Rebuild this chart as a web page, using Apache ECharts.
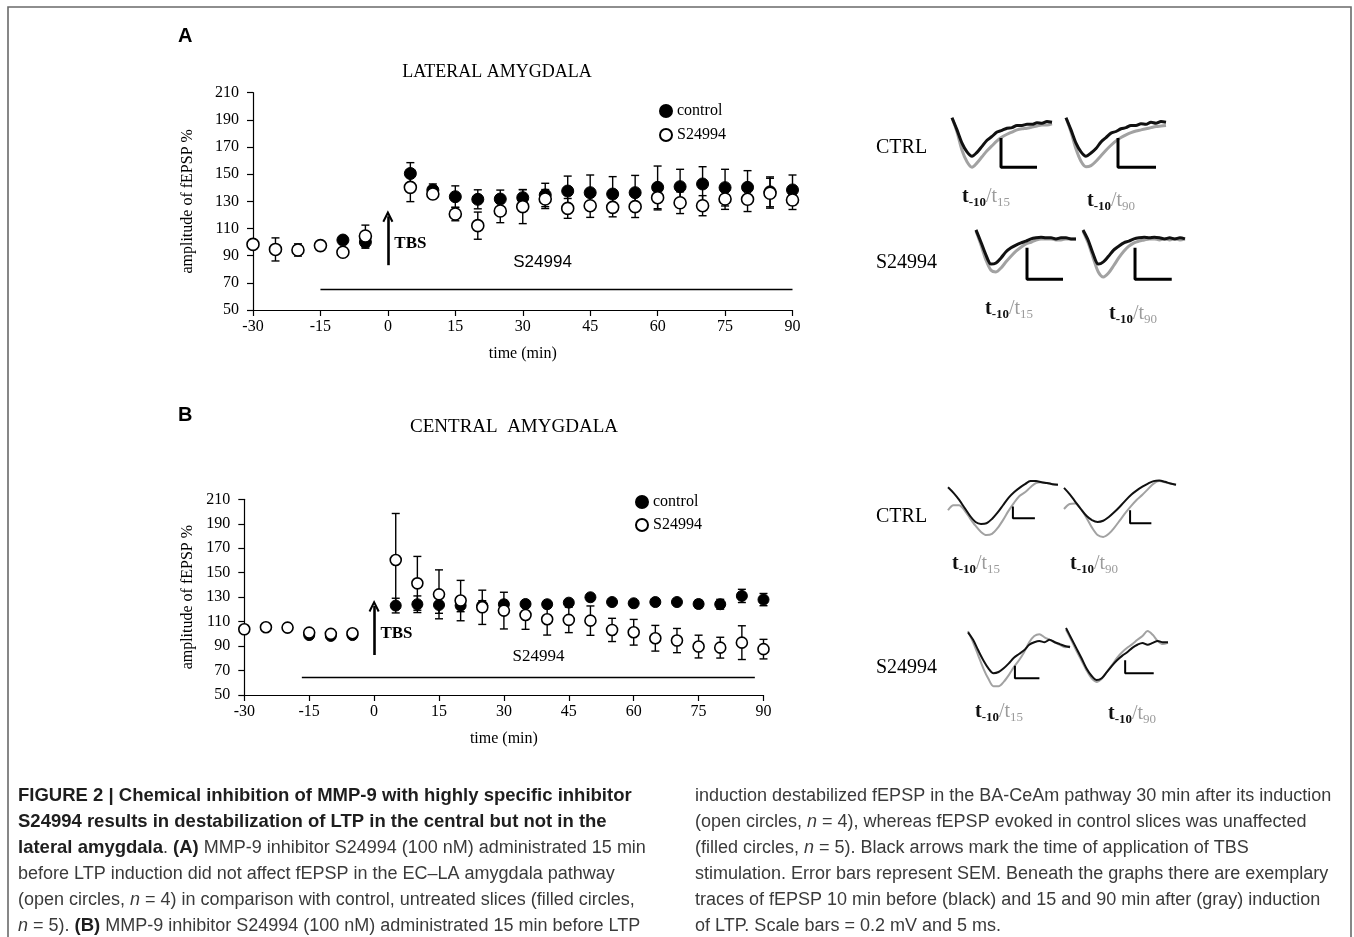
<!DOCTYPE html>
<html>
<head>
<meta charset="utf-8">
<title>Figure 2 - MMP-9 inhibition</title>
<script src="https://cdn.jsdelivr.net/npm/echarts/dist/echarts.min.js"></script>
<style>
  html, body { margin: 0; padding: 0; background: #fff; }
  #main { width: 1354px; height: 937px; }
</style>
</head>
<body>
<div id="main"></div>
<script>
var SERIF = '"Liberation Serif", "Times New Roman", serif';
var SANS = '"Liberation Sans", Arial, sans-serif';

// time points (min) - no point at 0 (TBS)
var times = [-30, -25, -20, -15, -10, -5, 5, 10, 15, 20, 25, 30, 35, 40, 45, 50, 55, 60, 65, 70, 75, 80, 85, 90];
var ampTicks = [50, 70, 90, 110, 130, 150, 170, 190, 210];

// A - lateral amygdala (% of baseline fEPSP, mean and SEM)
var laControl = [null, null, null, null, 101.5, 100, 150.5, 138.3, 133.4, 131.5, 131.7, 132.7, 134.7, 137.6, 136.4, 135.4, 136.4, 140.3, 140.8, 142.8, 140.1, 140.3, 137, 138.4];
var laControlSem = [null, null, null, null, 1.5, 4.5, 8, 4.5, 8, 7, 6.6, 6, 8.6, 11, 13, 12.8, 12.7, 15.7, 12.8, 12.7, 13.5, 12.3, 11, 11];
var laDrug = [98.3, 94.6, 94.2, 97.4, 92.5, 104.5, 140.3, 135.4, 120.7, 112.1, 122.9, 126.1, 131.7, 124.8, 126.8, 125.6, 126.1, 132.7, 129, 126.8, 131.7, 131.5, 136, 131];
var laDrugSem = [2, 8.5, 4.5, 1.5, 1.5, 8, 10.5, 3.4, 5, 10, 8.6, 12.5, 7, 7.3, 8.6, 7, 8, 9, 8, 7.4, 7.6, 9, 11, 7];

// B - central amygdala
var ceControl = [null, null, null, 99, 98.3, 99, 123.1, 124.2, 123.6, 123.1, 123.1, 124.2, 124.4, 124.2, 125.5, 129.9, 126, 125, 126, 126, 124.4, 124.2, 131, 128];
var ceControlSem = [null, null, null, 1, 1, 1, 6, 6.8, 6.8, 5, 4, 3, 2, 2, 2.5, 2.5, 2, 2, 2, 2.5, 3, 4, 5.4, 5];
var ceDrug = [103.7, 105.4, 105.1, 101, 100, 100.5, 160.4, 141.3, 132.3, 127.2, 121.7, 119, 115.4, 111.9, 111.4, 110.8, 103.2, 101.3, 96.4, 94.5, 89.6, 88.7, 92.8, 87.5];
var ceDrugSem = [1, 1, 1, 1, 1, 1, 38, 22, 20, 16.5, 14, 15, 11.7, 12.9, 10.4, 12, 9.5, 10.5, 10.5, 9.9, 9.3, 8.5, 13.8, 8];

// example traces: x in % of panel width, y = depth from panel top (% of panel height)
var traceX = [0, 5, 10, 15, 20, 25, 30, 35, 40, 45, 50, 55, 60, 65, 70, 75, 80, 85, 90, 95, 100];
var laCtrl15Black = [5, 27, 51, 67, 75, 68, 57, 46, 39, 31, 28, 24, 23, 19, 19, 17, 17, 14, 15, 12, 13];
var laCtrl15Gray = [5, 31, 64, 85, 95, 87, 76, 65, 56, 47, 40, 35, 31, 27, 25, 24, 22, 20, 18, 18, 16];
var laCtrl15Bar = [[49, 42], [49, 95], [85, 95]];
var laCtrl90Black = [5, 27, 51, 67, 75, 69, 61, 49, 41, 33, 30, 25, 23, 19, 19, 16, 17, 13, 15, 12, 13];
var laCtrl90Gray = [5, 31, 62, 84, 94, 92, 84, 74, 64, 55, 47, 41, 36, 32, 29, 27, 25, 23, 21, 20, 19];
var laCtrl90Bar = [[52, 42], [52, 95], [90, 95]];
var laDrug15Black = [7, 29, 52, 68, 66, 57, 46, 39, 34, 30, 27, 23, 21, 20, 21, 21, 23, 21, 21, 23, 23];
var laDrug15Gray = [9, 34, 61, 79, 82, 75, 64, 54, 45, 38, 32, 29, 25, 23, 23, 23, 25, 25, 23, 23, 23];
var laDrug15Bar = [[51, 39], [51, 95], [87, 95]];
var laDrug90Black = [7, 25, 50, 68, 64, 54, 43, 36, 30, 27, 23, 21, 20, 21, 20, 21, 23, 21, 23, 21, 23];
var laDrug90Gray = [9, 30, 57, 82, 91, 84, 71, 57, 45, 36, 30, 27, 25, 23, 23, 25, 23, 25, 23, 25, 23];
var laDrug90Bar = [[51, 39], [51, 95], [87, 95]];
var ceCtrl15Black = [15, 24, 35, 48, 61, 71, 74, 73, 66, 56, 44, 32, 23, 16, 10, 5, 5, 7, 8, 10, 11];
var ceCtrl15Gray = [52, 44, 44, 52, 65, 77, 87, 92, 90, 81, 68, 53, 40, 29, 23, 15, 8, 7, 8, 10, 11];
var ceCtrl15Bar = [[59, 46], [59, 65], [79, 65]];
var ceCtrl90Black = [16, 26, 38, 50, 61, 68, 71, 69, 63, 55, 46, 36, 27, 20, 14, 9, 5, 4, 6, 9, 11];
var ceCtrl90Gray = [50, 42, 41, 50, 64, 80, 92, 95, 90, 80, 68, 56, 45, 35, 27, 18, 9, 5, 7, 9, 11];
var ceCtrl90Bar = [[59, 52], [59, 73], [78, 73]];
var ceDrug15Black = [7, 19, 36, 52, 65, 73, 71, 65, 57, 48, 42, 36, 27, 23, 21, 23, 19, 23, 26, 29, 31];
var ceDrug15Gray = [5, 23, 44, 65, 82, 94, 94, 87, 76, 63, 52, 39, 23, 13, 10, 15, 19, 23, 27, 31, 29];
var ceDrug15Bar = [[46, 61], [46, 81], [70, 81]];
var ceDrug90Black = [0, 16, 32, 48, 65, 77, 84, 81, 71, 61, 52, 45, 39, 32, 27, 24, 27, 24, 21, 23, 23];
var ceDrug90Gray = [3, 19, 36, 52, 68, 81, 87, 82, 71, 60, 48, 39, 32, 26, 19, 13, 5, 11, 21, 26, 24];
var ceDrug90Bar = [[58, 52], [58, 73], [86, 73]];

// caption
var captionLeft = [
  '{b|FIGURE 2 | Chemical inhibition of MMP-9 with highly specific inhibitor}',
  '{b|S24994 results in destabilization of LTP in the central but not in the}',
  '{b|lateral amygdala}. {b|(A)} MMP-9 inhibitor S24994 (100 nM) administrated 15 min',
  'before LTP induction did not affect fEPSP in the EC\u2013LA amygdala pathway',
  '(open circles, {i|n} = 4) in comparison with control, untreated slices (filled circles,',
  '{i|n} = 5). {b|(B)} MMP-9 inhibitor S24994 (100 nM) administrated 15 min before LTP'
];
var captionRight = [
  'induction destabilized fEPSP in the BA-CeAm pathway 30 min after its induction',
  '(open circles, {i|n} = 4), whereas fEPSP evoked in control slices was unaffected',
  '(filled circles, {i|n} = 5). Black arrows mark the time of application of TBS',
  'stimulation. Error bars represent SEM. Beneath the graphs there are exemplary',
  'traces of fEPSP 10 min before (black) and 15 and 90 min after (gray) induction',
  'of LTP. Scale bars = 0.2 mV and 5 ms.'
];

function toPoints(xs, ys) {
  var out = [];
  for (var i = 0; i < xs.length; i++) {
    if (ys[i] != null) out.push([xs[i], ys[i]]);
  }
  return out;
}
function toBars(xs, m, s) {
  var out = [];
  for (var i = 0; i < xs.length; i++) {
    if (m[i] != null) out.push([xs[i], m[i] - s[i], m[i] + s[i]]);
  }
  return out;
}

function errorBar(params, api) {
  var x = api.value(0);
  var lo = api.coord([x, api.value(1)]);
  var hi = api.coord([x, api.value(2)]);
  var cap = 4;
  var st = { stroke: '#000', lineWidth: 1.4 };
  return {
    type: 'group',
    children: [
      { type: 'line', shape: { x1: lo[0], y1: lo[1], x2: hi[0], y2: hi[1] }, style: st },
      { type: 'line', shape: { x1: hi[0] - cap, y1: hi[1], x2: hi[0] + cap, y2: hi[1] }, style: st },
      { type: 'line', shape: { x1: lo[0] - cap, y1: lo[1], x2: lo[0] + cap, y2: lo[1] }, style: st }
    ]
  };
}

var arrowHead = 'path://M0,12 L6,0 L12,12 L10,13 L6,5 L2,13 Z';

var grids = [];
var xAxes = [];
var yAxes = [];
var series = [];
var graphics = [];

// one time-course panel
function addPanel(p) {
  var g = grids.length;
  grids.push({ left: p.left, top: p.top, width: p.width, height: p.height });
  xAxes.push({
    gridIndex: g, type: 'value', min: -30, max: 90, interval: 15,
    axisLine: { show: true, onZero: false, lineStyle: { color: '#000', width: 1.2 } },
    axisTick: { show: true, length: 6, lineStyle: { color: '#000', width: 1.2 } },
    axisLabel: { color: '#000', fontFamily: SERIF, fontSize: 16, margin: 9 },
    splitLine: { show: false },
    name: 'time (min)', nameLocation: 'middle', nameGap: p.xNameGap,
    nameTextStyle: { color: '#000', fontFamily: SERIF, fontSize: 16 }
  });
  yAxes.push({
    gridIndex: g, type: 'value', min: 50, max: 210,
    axisLine: { show: true, onZero: false, lineStyle: { color: '#000', width: 1.2 } },
    axisTick: { show: true, length: 6, customValues: ampTicks, lineStyle: { color: '#000', width: 1.2 } },
    axisLabel: { color: '#000', fontFamily: SERIF, fontSize: 16, margin: 14, customValues: ampTicks },
    splitLine: { show: false },
    name: 'amplitude of fEPSP %', nameLocation: 'middle', nameGap: p.yNameGap,
    nameTextStyle: { color: '#000', fontFamily: SERIF, fontSize: 16 }
  });
  series.push({
    type: 'custom', xAxisIndex: g, yAxisIndex: g, z: 2, silent: true,
    renderItem: errorBar, encode: { x: 0, y: [1, 2] },
    data: toBars(times, p.control, p.controlSem)
  });
  series.push({
    type: 'scatter', name: 'control', xAxisIndex: g, yAxisIndex: g, z: 3,
    symbol: 'circle', symbolSize: p.symbolSize,
    itemStyle: { color: '#000', borderColor: '#000', borderWidth: 1, opacity: 1 },
    data: toPoints(times, p.control)
  });
  series.push({
    type: 'custom', xAxisIndex: g, yAxisIndex: g, z: 4, silent: true,
    renderItem: errorBar, encode: { x: 0, y: [1, 2] },
    data: toBars(times, p.drug, p.drugSem)
  });
  series.push({
    type: 'scatter', name: 'S24994', xAxisIndex: g, yAxisIndex: g, z: 5,
    symbol: 'circle', symbolSize: p.symbolSize,
    itemStyle: { color: '#fff', borderColor: '#000', borderWidth: 1.6, opacity: 1 },
    data: toPoints(times, p.drug),
    markLine: {
      silent: true, animation: false, symbol: 'none', label: { show: false },
      lineStyle: { type: 'solid', color: '#000', width: 1.3 },
      data: [
        [{ coord: [p.drugFrom, p.drugY] }, { coord: [p.drugTo, p.drugY] }],
        [{ coord: [0, p.arrowFrom], lineStyle: { width: 2.6 } },
         { coord: [0, p.arrowTo], symbol: arrowHead, symbolSize: [11, 12], symbolOffset: [0, 0] }]
      ]
    },
    markPoint: {
      silent: true, animation: false, symbol: 'circle', symbolSize: 0,
      data: [
        { coord: [1, p.tbsY], label: { show: true, position: 'right', distance: 2, formatter: 'TBS', color: '#000', fontFamily: SERIF, fontWeight: 'bold', fontSize: 17 } },
        { coord: p.drugLabel, label: { show: true, position: 'inside', formatter: 'S24994', color: '#000', fontFamily: p.drugFont, fontSize: 17 } }
      ]
    }
  });
}

addPanel({
  left: 253, top: 92.7, width: 539.5, height: 217.3, xNameGap: 36, yNameGap: 57, symbolSize: 12,
  control: laControl, controlSem: laControlSem, drug: laDrug, drugSem: laDrugSem,
  drugFrom: -15, drugTo: 90, drugY: 65.5, arrowFrom: 83, arrowTo: 119, tbsY: 99,
  drugLabel: [34.4, 84.8], drugFont: SANS
});
addPanel({
  left: 244.3, top: 499.3, width: 519.2, height: 195.7, xNameGap: 36, yNameGap: 49, symbolSize: 11,
  control: ceControl, controlSem: ceControlSem, drug: ceDrug, drugSem: ceDrugSem,
  drugFrom: -16.7, drugTo: 88, drugY: 64.5, arrowFrom: 82.7, arrowTo: 122.8, tbsY: 100,
  drugLabel: [38, 81.4], drugFont: SERIF
});

// exemplary trace panels
var tracePanels = [
  { box: [952, 115, 100, 55], black: laCtrl15Black, gray: laCtrl15Gray, bar: laCtrl15Bar, w: 3 },
  { box: [1066, 115, 100, 55], black: laCtrl90Black, gray: laCtrl90Gray, bar: laCtrl90Bar, w: 3 },
  { box: [976, 226, 100, 56], black: laDrug15Black, gray: laDrug15Gray, bar: laDrug15Bar, w: 3 },
  { box: [1083, 226, 102, 56], black: laDrug90Black, gray: laDrug90Gray, bar: laDrug90Bar, w: 3 },
  { box: [948, 478, 110, 62], black: ceCtrl15Black, gray: ceCtrl15Gray, bar: ceCtrl15Bar, w: 2 },
  { box: [1064, 478, 112, 62], black: ceCtrl90Black, gray: ceCtrl90Gray, bar: ceCtrl90Bar, w: 2 },
  { box: [968, 628, 102, 62], black: ceDrug15Black, gray: ceDrug15Gray, bar: ceDrug15Bar, w: 2 },
  { box: [1066, 628, 102, 62], black: ceDrug90Black, gray: ceDrug90Gray, bar: ceDrug90Bar, w: 2 }
];
tracePanels.forEach(function (tp) {
  var g = grids.length;
  grids.push({ left: tp.box[0], top: tp.box[1], width: tp.box[2], height: tp.box[3] });
  xAxes.push({ gridIndex: g, type: 'value', min: 0, max: 100, show: false });
  yAxes.push({ gridIndex: g, type: 'value', min: 0, max: 100, inverse: true, show: false });
  series.push({
    type: 'line', xAxisIndex: g, yAxisIndex: g, z: 2, silent: true, showSymbol: false, smooth: 0.3,
    lineStyle: { color: '#a2a2a2', width: tp.w }, data: toPoints(traceX, tp.gray)
  });
  series.push({
    type: 'line', xAxisIndex: g, yAxisIndex: g, z: 3, silent: true, showSymbol: false, smooth: 0.3,
    lineStyle: { color: '#111', width: tp.w }, data: toPoints(traceX, tp.black)
  });
  series.push({
    type: 'line', xAxisIndex: g, yAxisIndex: g, z: 3, silent: true, showSymbol: false,
    lineStyle: { color: '#000', width: tp.w }, data: tp.bar
  });
});

// texts
function addText(x, y, text, font, extra) {
  var st = { x: x, y: y, text: text, font: font, fill: '#000', textAlign: 'left', textVerticalAlign: 'middle', align: 'left', verticalAlign: 'middle' };
  for (var k in extra) st[k] = extra[k];
  graphics.push({ type: 'text', silent: true, style: st });
}

graphics.push({
  type: 'rect', silent: true, shape: { x: 8, y: 7, width: 1343, height: 980 },
  style: { fill: 'transparent', stroke: '#6a6a6a', lineWidth: 1.6 }
});
addText(178, 36, 'A', 'bold 20px ' + SANS);
addText(178, 415, 'B', 'bold 20px ' + SANS);
addText(497, 72, 'LATERAL AMYGDALA', '18px ' + SERIF, { textAlign: 'center', align: 'center' });
addText(514, 427, 'CENTRAL  AMYGDALA', '19px ' + SERIF, { textAlign: 'center', align: 'center' });

addText(876, 148, 'CTRL', '20px ' + SERIF);
addText(876, 263, 'S24994', '20px ' + SERIF);
addText(876, 517, 'CTRL', '20px ' + SERIF);
addText(876, 668, 'S24994', '20px ' + SERIF);

var subRich = {
  t: { fontFamily: SERIF, fontSize: 20, fontWeight: 'bold', fill: '#111', lineHeight: 22, verticalAlign: 'top' },
  s: { fontFamily: SERIF, fontSize: 13, fontWeight: 'bold', fill: '#111', lineHeight: 13, verticalAlign: 'bottom' },
  g: { fontFamily: SERIF, fontSize: 20, fill: '#9b9b9b', lineHeight: 22, verticalAlign: 'top' },
  gs: { fontFamily: SERIF, fontSize: 13, fill: '#9b9b9b', lineHeight: 13, verticalAlign: 'bottom' }
};
var traceLabels = [
  [962, 198, '15'], [1087, 202, '90'], [985, 310, '15'], [1109, 315, '90'],
  [952, 565, '15'], [1070, 565, '90'], [975, 713, '15'], [1108, 715, '90']
];
traceLabels.forEach(function (tl) {
  addText(tl[0], tl[1], '{t|t}{s|-10}{g|/t}{gs|' + tl[2] + '}', '20px ' + SERIF, { rich: subRich });
});

var capRich = {
  b: { fontFamily: SANS, fontSize: 18.5, fontWeight: 'bold', fill: '#1e1e1e' },
  i: { fontFamily: SANS, fontSize: 18, fontStyle: 'italic', fill: '#3a3a3a' }
};
captionLeft.forEach(function (line, i) {
  addText(18, 796 + i * 26, line, '18px ' + SANS, { fill: '#3a3a3a', rich: capRich });
});
captionRight.forEach(function (line, i) {
  addText(695, 796 + i * 26, line, '18px ' + SANS, { fill: '#3a3a3a', rich: capRich });
});

var legendText = { color: '#000', fontFamily: SERIF, fontSize: 16 };
var chart = echarts.init(document.getElementById('main'), null, { renderer: 'canvas', width: 1354, height: 937 });
chart.setOption({
  animation: false,
  backgroundColor: '#fff',
  grid: grids,
  xAxis: xAxes,
  yAxis: yAxes,
  legend: [
    { left: 654, top: 98, orient: 'vertical', itemWidth: 12, itemHeight: 12, itemGap: 8, icon: 'circle', selectedMode: false, textStyle: legendText, data: ['control', 'S24994'] },
    { left: 630, top: 489, orient: 'vertical', itemWidth: 12, itemHeight: 12, itemGap: 7, icon: 'circle', selectedMode: false, textStyle: legendText, data: ['control', 'S24994'] }
  ],
  series: series,
  graphic: graphics
});
</script>
</body>
</html>
